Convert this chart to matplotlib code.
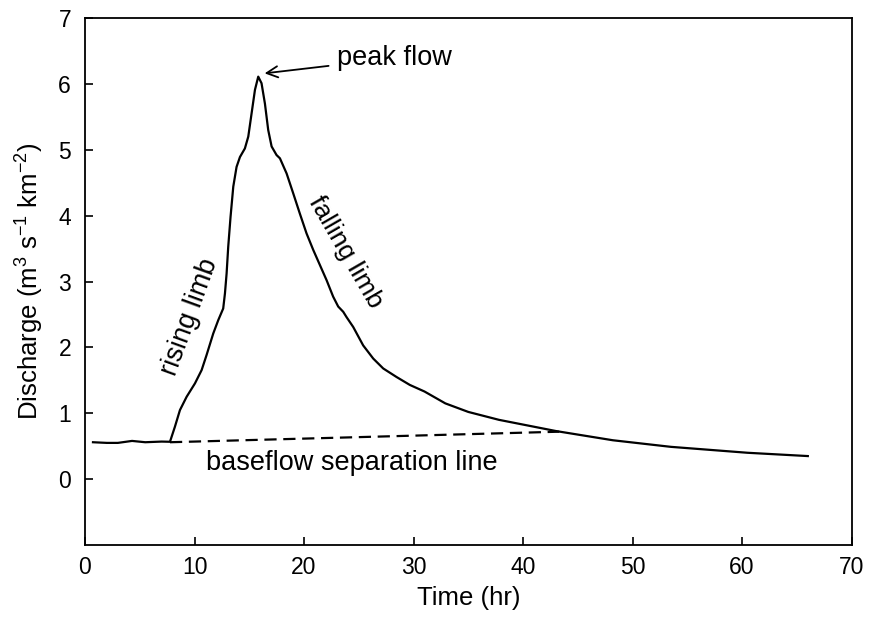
import matplotlib
matplotlib.use("Agg")
import matplotlib.pyplot as plt

plt.rcParams['font.family'] = ['Liberation Sans', 'DejaVu Sans']
plt.rcParams['mathtext.fontset'] = 'custom'
plt.rcParams['mathtext.rm'] = 'Liberation Sans'
plt.rcParams['mathtext.it'] = 'Liberation Sans'
plt.rcParams['mathtext.default'] = 'regular'

time_hr = [0.73, 2.0, 3.0, 4.3, 5.5, 7.0, 7.76, 8.21, 8.67, 9.28, 10.04, 10.65,
           11.10, 11.71, 12.17, 12.62, 12.78, 12.93, 13.08, 13.29, 13.54, 13.84,
           14.15, 14.60, 14.91, 15.21, 15.52, 15.82, 16.12, 16.43, 16.73, 17.04,
           17.49, 17.80, 18.41, 19.01, 19.62, 20.23, 20.84, 21.45, 22.06, 22.66,
           23.12, 23.58, 23.88, 24.49, 25.40, 26.32, 27.23, 28.45, 29.66, 31.0,
           32.9, 35.0, 37.8, 43.0, 48.2, 53.5, 60.5, 66.0]
discharge = [0.56, 0.55, 0.55, 0.58, 0.56, 0.57, 0.567, 0.795, 1.048, 1.25,
             1.453, 1.655, 1.883, 2.21, 2.414, 2.59, 2.82, 3.12, 3.53, 3.98,
             4.44, 4.74, 4.89, 5.02, 5.20, 5.55, 5.91, 6.11, 6.01, 5.70, 5.30,
             5.05, 4.92, 4.87, 4.64, 4.34, 4.03, 3.73, 3.48, 3.25, 3.02, 2.77,
             2.62, 2.54, 2.46, 2.31, 2.03, 1.83, 1.68, 1.55, 1.43, 1.33, 1.15,
             1.02, 0.90, 0.73, 0.59, 0.49, 0.40, 0.35]
baseflow_t = [7.76, 43.3]
baseflow_q = [0.56, 0.72]
xticks = [0, 10, 20, 30, 40, 50, 60, 70]
yticks = [0, 1, 2, 3, 4, 5, 6, 7]

fig = plt.figure(figsize=(8.69, 6.17), dpi=100)
ax = fig.add_axes([0.0978, 0.1167, 0.8822, 0.8541])
ax.plot(time_hr, discharge, color='black', lw=1.6)
ax.plot(baseflow_t, baseflow_q, color='black', lw=1.6, ls=(0, (5.5, 3)))

ax.set_xlim(0, 70)
ax.set_ylim(-1, 7)
ax.set_xticks(xticks)
ax.set_yticks(yticks)
ax.tick_params(direction='in', length=6, width=1.2, labelsize=16.5)
ax.tick_params(axis='x', pad=8)
ax.tick_params(axis='y', pad=10)
for s in ax.spines.values():
    s.set_linewidth(1.3)

ax.set_xlabel('Time (hr)', fontsize=18.5, labelpad=5)
ax.set_ylabel('Discharge (m$^3$ s$^{-1}$ km$^{-2}$)', fontsize=18.5, labelpad=9)

ax.annotate('peak flow', xy=(16.4, 6.16), xytext=(23.0, 6.39),
            fontsize=19.5, va='center', ha='left',
            arrowprops=dict(arrowstyle='->', color='black', lw=1.3,
                            mutation_scale=20, shrinkA=4, shrinkB=0))
ax.text(9.58, 2.46, 'rising limb', rotation=70, fontsize=19.5,
        ha='center', va='center')
ax.text(23.8, 3.44, 'falling limb', rotation=-60, fontsize=19,
        ha='center', va='center')
ax.text(24.4, 0.24, 'baseflow separation line', fontsize=19.5,
        ha='center', va='center')

fig.savefig('out.png', dpi=100)
